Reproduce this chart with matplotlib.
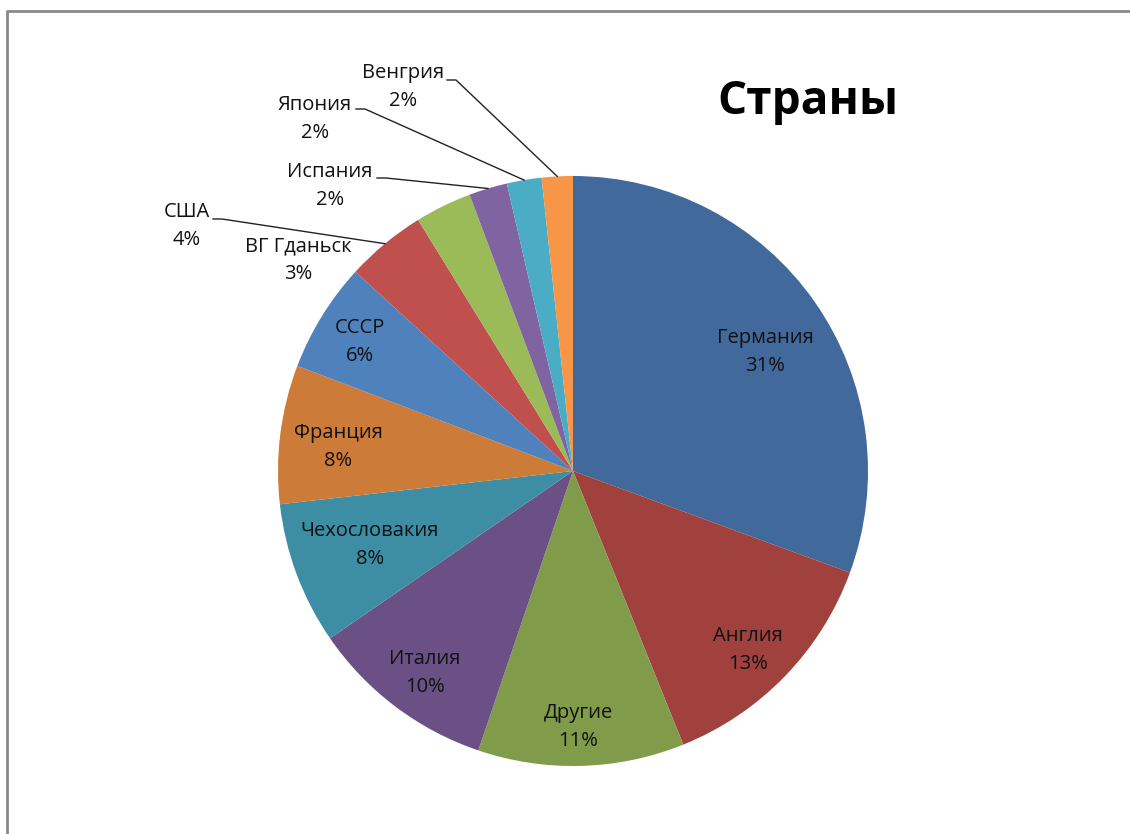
import numpy as np
import matplotlib.pyplot as plt

plt.rcParams['font.family'] = ['Open Sans', 'DejaVu Sans']

# Data (share of each country, %), clockwise from 12 o'clock
countries = ['Германия', 'Англия', 'Другие', 'Италия', 'Чехословакия', 'Франция',
             'СССР', 'США', 'ВГ Гданьск', 'Испания', 'Япония', 'Венгрия']
shares = [30.6, 13.3, 11.3, 10.2, 7.8, 7.6, 6.0, 4.4, 3.1, 2.1, 1.9, 1.7]
colors = ['#41699B', '#A0413E', '#809B4A', '#6A5085', '#3D8EA5', '#CD7B38',
          '#4F81BD', '#C0504D', '#9BBB59', '#8064A2', '#4BACC6', '#F79646']

W, H = 1130, 834
fig = plt.figure(figsize=(W / 100, H / 100), dpi=100)
ax = fig.add_axes([0, 0, 1, 1])

cx, cy, R = 573, H - 471, 295
wedges, _ = ax.pie(shares, colors=colors, startangle=90, counterclock=False,
                   center=(cx, cy), radius=R, wedgeprops=dict(linewidth=0))
ax.set_xlim(0, W)
ax.set_ylim(0, H)
ax.set_aspect('equal')
ax.axis('off')

total = sum(shares)
pct = [f'{round(s / total * 100):.0f}%' for s in shares]

# label placement (pixel coords from top-left)
label_pos = {
    'Германия': (765, 352), 'Англия': (748, 650), 'Другие': (578, 727),
    'Италия': (425, 673), 'Чехословакия': (370, 545), 'Франция': (338, 447),
    'СССР': (360, 342), 'ВГ Гданьск': (298, 260), 'США': (187, 226),
    'Испания': (330, 186), 'Япония': (315, 119), 'Венгрия': (403, 87),
}
# outside labels get a leader line to the slice edge
leader_start = {
    'США': (213, 219), 'Испания': (377, 178), 'Япония': (356, 109), 'Венгрия': (447, 80),
}

for w, name, p in zip(wedges, countries, pct):
    x, y = label_pos[name]
    ax.text(x, H - y, f'{name}\n{p}', ha='center', va='center', fontsize=14.5,
            color='#111111', linespacing=1.5)
    if name in leader_start:
        mid = np.deg2rad((w.theta1 + w.theta2) / 2)
        ex, ey = cx + R * np.cos(mid), cy + R * np.sin(mid)
        sx, sy = leader_start[name]
        ax.plot([sx, sx + 9, ex], [H - sy, H - sy, ey], color='#222222', lw=1)

ax.text(808, H - 101, 'Страны', ha='center', va='center', fontsize=33,
        fontweight='bold', color='black')

# chart frame (left and top edges visible)
ax.plot([7, 7], [0, H - 11], color='#8a8a8a', lw=2, solid_capstyle='butt')
ax.plot([6, W], [H - 11, H - 11], color='#8a8a8a', lw=2, solid_capstyle='butt')

fig.savefig('out.png', dpi=100)
